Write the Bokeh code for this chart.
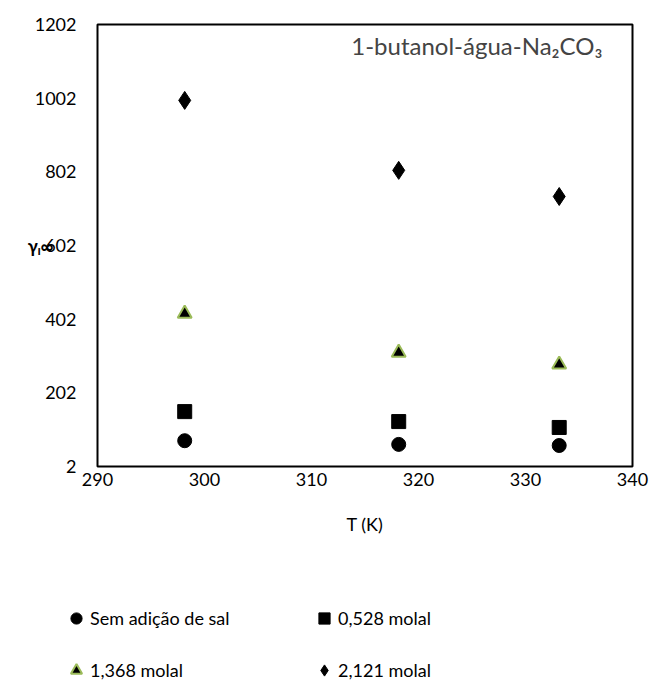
from bokeh.plotting import figure
from bokeh.models import FixedTicker, Legend, LegendItem, Label, Range1d
from bokeh.layouts import column
from bokeh.embed import file_html
from bokeh.resources import INLINE

T = [298.15, 318.15, 333.15]
sem_sal = [72, 62, 59]
m0528 = [151, 124, 108]
m1368 = [417, 311, 279]
m2121 = [996, 806, 735]
names = ["Sem adição de sal", "0,528 molal", "1,368 molal", "2,121 molal"]
xticks = [290, 300, 310, 320, 330, 340]
yticks = [2, 202, 402, 602, 802, 1002, 1202]

FONT = "Lato"
FS = "18px"

p = figure(width=654, height=550, output_backend="svg", toolbar_location=None,
           x_range=Range1d(290, 340), y_range=Range1d(2, 1202),
           min_border_left=97, min_border_top=24, min_border_right=22, min_border_bottom=84)
p.frame_align = False
p.xgrid.visible = False
p.ygrid.visible = False
p.outline_line_color = "black"
p.outline_line_width = 2
p.background_fill_color = "white"
p.border_fill_color = "white"

for ax in (p.xaxis[0], p.yaxis[0]):
    ax.axis_line_color = None
    ax.major_tick_line_color = None
    ax.minor_tick_line_color = None
    ax.major_tick_out = 0
    ax.major_tick_in = 0
    ax.minor_tick_out = 0
    ax.major_label_text_font = FONT
    ax.major_label_text_font_size = FS
    ax.major_label_text_color = "black"
p.xaxis.ticker = FixedTicker(ticks=xticks)
p.yaxis.ticker = FixedTicker(ticks=yticks)
p.xaxis.major_label_standoff = 6
p.yaxis.major_label_standoff = 21
p.xaxis.axis_label = "T (K)"
p.xaxis.axis_label_text_font = FONT
p.xaxis.axis_label_text_font_size = FS
p.xaxis.axis_label_text_font_style = "normal"
p.xaxis.axis_label_text_color = "black"
p.xaxis.axis_label_standoff = 24

p.yaxis.axis_label = "γᵢ∞"
p.yaxis.axis_label_orientation = "horizontal"
p.yaxis.axis_label_text_font = FONT
p.yaxis.axis_label_text_font_size = "18px"
p.yaxis.axis_label_text_font_style = "bold"
p.yaxis.axis_label_text_color = "black"
p.yaxis.axis_label_standoff = -22

styles = [dict(marker="circle", size=14, fill_color="black", line_color="black"),
          dict(marker="square", size=14, fill_color="black", line_color="black"),
          dict(marker="triangle", size=14, fill_color="black", line_color="#9BBB59", line_width=2),
          dict(marker="diamond", size=18, fill_color="black", line_color="black")]
series = [sem_sal, m0528, m1368, m2121]
for s, st in zip(series, styles):
    p.scatter(T, s, **st)

title = Label(x=505, y=421, x_units="screen", y_units="screen", text="1-butanol-água-Na₂CO₃",
              text_font=FONT, text_font_size="24px", text_align="right", text_baseline="middle")
p.add_layout(title)

# legend figure below (its data lies outside its own view, only the legend shows)
q = figure(width=654, height=141, output_backend="svg", toolbar_location=None,
           x_range=Range1d(0, 1), y_range=Range1d(0, 1),
           x_axis_location=None, y_axis_location=None,
           min_border_left=0, min_border_right=0, min_border_top=0, min_border_bottom=0)
q.frame_align = False
q.xgrid.visible = False
q.ygrid.visible = False
q.outline_line_color = None
q.border_fill_color = "white"
q.background_fill_color = "white"
items = []
for name, s, st in zip(names, series, styles):
    r = q.scatter(T, s, **st)
    items.append(LegendItem(label=name, renderers=[r]))
leg = Legend(items=items, orientation="horizontal", ncols=2, border_line_color=None,
             background_fill_alpha=0, label_text_font=FONT, label_text_font_size=FS,
             label_text_color="black",
             glyph_width=28, glyph_height=28, label_standoff=0, label_width=196,
             spacing=24, padding=0, margin=0, location=(62, 7))
q.add_layout(leg)

open("out.html", "w").write(file_html(column(p, q, spacing=0), INLINE))
